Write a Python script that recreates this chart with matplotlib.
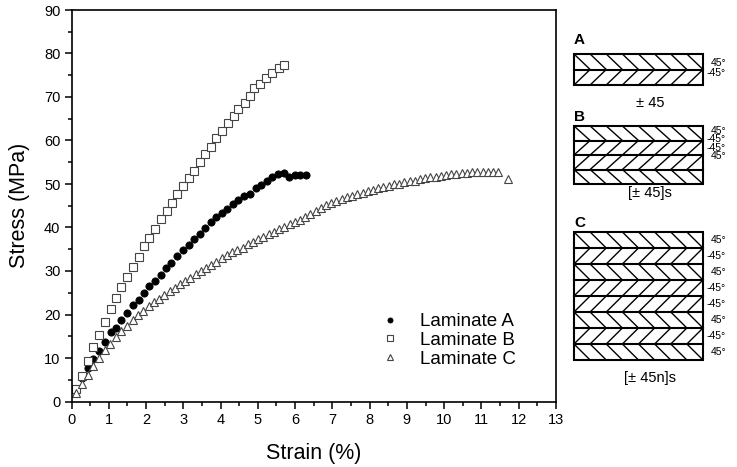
import numpy as np
import matplotlib
matplotlib.use('Agg')
import matplotlib.pyplot as plt
from matplotlib.ticker import MultipleLocator

plt.rcParams['font.family'] = ['Liberation Sans', 'DejaVu Sans']

# Laminate A (filled circles)
strain_a = [0.12, 0.27, 0.43, 0.58, 0.74, 0.89, 1.05, 1.19, 1.34, 1.49, 1.64, 1.80,
            1.94, 2.08, 2.23, 2.39, 2.53, 2.68, 2.83, 2.99, 3.14, 3.29, 3.44, 3.59,
            3.73, 3.89, 4.04, 4.18, 4.33, 4.48, 4.63, 4.79, 4.94, 5.09, 5.24, 5.39,
            5.54, 5.69, 5.84, 5.99, 6.14, 6.30]
stress_a = [2.7, 5.3, 7.6, 9.7, 11.7, 13.7, 15.9, 17.0, 18.7, 20.3, 22.1, 23.3,
            24.9, 26.5, 27.8, 29.1, 30.6, 31.9, 33.4, 34.8, 35.9, 37.4, 38.5, 39.8,
            41.2, 42.4, 43.3, 44.2, 45.4, 46.3, 47.2, 47.8, 49.0, 49.8, 50.6, 51.6,
            52.2, 52.6, 51.7, 52.0, 52.1, 52.1]

# Laminate B (open squares)
strain_b = [0.12, 0.27, 0.43, 0.58, 0.74, 0.89, 1.05, 1.19, 1.34, 1.49, 1.64, 1.80,
            1.94, 2.08, 2.23, 2.39, 2.55, 2.70, 2.84, 2.99, 3.15, 3.29, 3.44, 3.59,
            3.73, 3.89, 4.04, 4.20, 4.35, 4.48, 4.65, 4.78, 4.91, 5.07, 5.23, 5.39,
            5.56, 5.70]
stress_b = [2.8, 5.9, 9.3, 12.6, 15.4, 18.2, 21.3, 23.7, 26.3, 28.7, 31.0, 33.3,
            35.7, 37.7, 39.7, 41.9, 43.8, 45.7, 47.7, 49.5, 51.3, 53.1, 55.0, 56.8,
            58.6, 60.5, 62.2, 64.0, 65.7, 67.2, 68.7, 70.2, 72.0, 73.1, 74.3, 75.6,
            76.6, 77.4]

# Laminate C (open triangles)
strain_c = [0.12, 0.28, 0.44, 0.59, 0.74, 0.89, 1.04, 1.19, 1.34, 1.49, 1.64, 1.79,
            1.93, 2.07, 2.21, 2.35, 2.49, 2.63, 2.77, 2.91, 3.05, 3.19, 3.33, 3.47,
            3.61, 3.75, 3.89, 4.03, 4.17, 4.31, 4.45, 4.59, 4.73, 4.87, 5.01, 5.15,
            5.29, 5.43, 5.57, 5.71, 5.85, 5.99, 6.13, 6.27, 6.41, 6.55, 6.69, 6.83,
            6.97, 7.11, 7.25, 7.39, 7.53, 7.67, 7.81, 7.95, 8.09, 8.23, 8.37, 8.51,
            8.65, 8.79, 8.93, 9.07, 9.21, 9.35, 9.49, 9.63, 9.77, 9.91, 10.05, 10.19,
            10.33, 10.47, 10.61, 10.75, 10.89, 11.03, 11.17, 11.31, 11.45, 11.70]
stress_c = [2.0, 4.0, 6.2, 8.1, 10.1, 11.8, 13.3, 14.9, 16.3, 17.4, 18.7, 19.8,
            20.8, 21.9, 22.8, 23.6, 24.4, 25.3, 26.2, 26.9, 27.7, 28.4, 29.2, 29.9,
            30.6, 31.4, 32.1, 32.9, 33.6, 34.3, 34.9, 35.4, 36.1, 36.7, 37.3, 37.9,
            38.5, 39.0, 39.6, 40.2, 40.7, 41.2, 41.8, 42.4, 43.0, 43.7, 44.5, 45.2,
            45.6, 46.0, 46.5, 46.9, 47.3, 47.6, 48.0, 48.3, 48.6, 49.0, 49.3, 49.6,
            49.9, 50.1, 50.4, 50.6, 50.8, 51.1, 51.3, 51.5, 51.7, 51.9, 52.0, 52.2,
            52.3, 52.5, 52.6, 52.7, 52.7, 52.8, 52.8, 52.8, 52.7, 51.2]

# laminate lay-ups for the schematic on the right
LAYUPS = {
    'A': ['45°', '-45°'],
    'B': ['45°', '-45°', '-45°', '45°'],
    'C': ['45°', '-45°', '45°', '-45°', '-45°', '45°', '-45°', '45°'],
}
CAPTIONS = {'A': '± 45', 'B': '[± 45]s', 'C': '[± 45n]s'}

fig = plt.figure(figsize=(7.37, 4.67), dpi=100)
ax = fig.add_axes([71.5 / 737, 1 - 401.5 / 467, (556 - 71.5) / 737, (401.5 - 10) / 467])

ax.plot(strain_a, stress_a, 'o', ms=5.2, mfc='black', mec='black', mew=0.6,
        label='Laminate A')
ax.plot(strain_b, stress_b, 's', ms=5.4, mfc='white', mec='#444444', mew=0.8,
        label='Laminate B')
ax.plot(strain_c, stress_c, '^', ms=5.8, mfc='white', mec='#444444', mew=0.8,
        label='Laminate C')

ax.set_xlim(0, 13)
ax.set_ylim(0, 90)
ax.xaxis.set_major_locator(MultipleLocator(1))
ax.xaxis.set_minor_locator(MultipleLocator(0.5))
ax.yaxis.set_major_locator(MultipleLocator(10))
ax.yaxis.set_minor_locator(MultipleLocator(5))
ax.tick_params(which='both', direction='out', top=False, right=False, width=1.1,
               labelsize=10.5, pad=3)
ax.tick_params(which='major', length=5)
ax.tick_params(which='minor', length=3)
for s in ax.spines.values():
    s.set_linewidth(1.2)

ax.set_xlabel('Strain (%)', fontsize=15.5, labelpad=12)
ax.set_ylabel('Stress (MPa)', fontsize=15.5, labelpad=10)

leg = ax.legend(loc='upper left', bbox_to_anchor=(366 / 737, 1 - 300 / 467),
                bbox_transform=fig.transFigure, frameon=False, fontsize=13.5,
                markerscale=0.7, handlelength=1.2, handletextpad=1.0,
                labelspacing=0.08, borderpad=0.2)

# schematic panel, drawn in pixel coordinates of the figure
sx = fig.add_axes([0, 0, 1, 1], facecolor='none')
sx.set_xlim(0, 737)
sx.set_ylim(467, 0)
sx.axis('off')

x0, x1 = 574, 703
ncell = 8
boxes = {'A': (54, 85), 'B': (126, 184), 'C': (232, 360)}
label_pos = {'A': (63.5, 9.5), 'B': (130.5, 8.6), 'C': (240, 16.0)}
title_y = {'A': 40, 'B': 117, 'C': 223}
caption_y = {'A': 103, 'B': 193, 'C': 378}

for key, plies in LAYUPS.items():
    top, bot = boxes[key]
    n = len(plies)
    h = (bot - top) / n
    cw = (x1 - x0) / ncell
    for k, ang in enumerate(plies):
        yt = top + k * h
        yb = yt + h
        for i in range(ncell):
            xa = x0 + i * cw
            if ang.startswith('-'):
                sx.plot([xa, xa + cw], [yb, yt], color='black', lw=1.0,
                        solid_capstyle='butt')
            else:
                sx.plot([xa, xa + cw], [yt, yb], color='black', lw=1.0,
                        solid_capstyle='butt')
        if k > 0:
            sx.plot([x0, x1], [yt, yt], color='black', lw=1.5)
    sx.add_patch(plt.Rectangle((x0, top), x1 - x0, bot - top, fill=False,
                               ec='black', lw=1.5))
    ly, dy = label_pos[key]
    for k, ang in enumerate(plies):
        sx.text(726, ly + k * dy, ang, fontsize=7.5, ha='right', va='center')
    sx.text(x0, title_y[key], key, fontsize=11, fontweight='bold',
            ha='left', va='center')
    sx.text(650, caption_y[key], CAPTIONS[key], fontsize=10.5, ha='center',
            va='center')

fig.savefig('out.png', dpi=100)
